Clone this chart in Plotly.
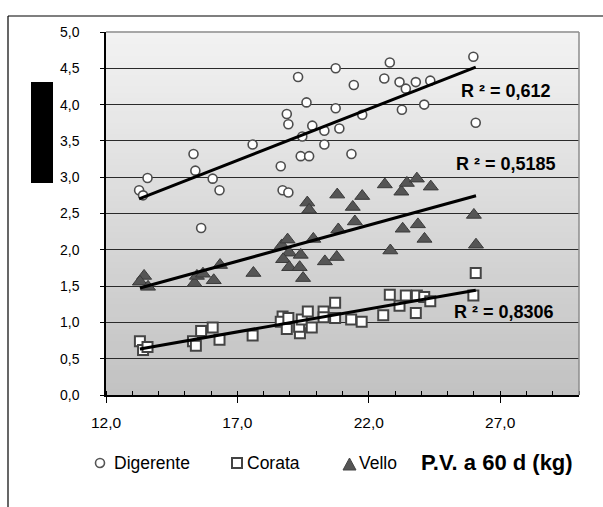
import numpy as np
import plotly.graph_objects as go

# ---------------- data ----------------
dig_x = [13.26, 13.41, 13.58, 15.33, 15.40, 15.62, 16.06, 16.32, 17.58, 18.65, 18.72, 18.94,
         18.88, 18.94, 19.31, 19.63, 19.47, 19.41, 19.73, 19.85, 20.31, 20.31, 20.74, 20.74,
         20.88, 21.43, 21.34, 21.75, 22.59, 22.80, 23.17, 23.41, 23.26, 23.79, 24.11, 24.34,
         25.98, 26.07]
dig_y = [2.82, 2.75, 2.99, 3.32, 3.09, 2.30, 2.98, 2.82, 3.45, 3.15, 2.82, 2.79,
         3.87, 3.73, 4.38, 4.03, 3.56, 3.29, 3.29, 3.71, 3.64, 3.45, 4.50, 3.95,
         3.67, 4.27, 3.32, 3.86, 4.36, 4.58, 4.31, 4.22, 3.93, 4.31, 4.00, 4.33,
         4.66, 3.75]

cor_x = [13.29, 13.41, 13.58, 15.31, 15.42, 15.62, 16.06, 16.32, 17.58, 18.72, 18.65, 18.94,
         18.88, 19.38, 19.35, 19.45, 19.68, 19.83, 20.28, 20.28, 20.72, 20.72, 21.33, 21.73,
         22.55, 22.80, 23.17, 23.41, 23.79, 23.83, 24.11, 24.34, 25.98, 26.07]
cor_y = [0.74, 0.62, 0.66, 0.74, 0.68, 0.88, 0.93, 0.76, 0.82, 1.08, 1.01, 1.06,
         0.91, 0.85, 0.94, 1.04, 1.15, 0.93, 1.15, 1.07, 1.27, 1.06, 1.04, 1.01,
         1.10, 1.38, 1.23, 1.37, 1.13, 1.37, 1.35, 1.29, 1.37, 1.68]

vel_x = [13.45, 13.29, 13.60, 15.37, 15.46, 15.69, 16.10, 16.34, 17.61, 18.69, 18.91, 18.97,
         18.74, 18.97, 19.41, 19.37, 19.50, 19.66, 19.73, 19.89, 20.33, 20.78, 20.84, 20.80,
         21.39, 21.47, 21.75, 22.61, 22.82, 23.24, 23.45, 23.83, 24.36, 23.29, 23.87, 24.12,
         26.00, 26.08]
vel_y = [1.64, 1.56, 1.49, 1.54, 1.64, 1.67, 1.58, 1.79, 1.68, 2.06, 2.14, 1.96,
         1.87, 1.76, 1.93, 1.76, 1.61, 2.65, 2.55, 2.15, 1.84, 1.90, 2.28, 2.76,
         2.59, 2.39, 2.74, 2.90, 1.99, 2.80, 2.92, 2.98, 2.87, 2.29, 2.35, 2.15,
         2.48, 2.07]

series_names = ["Digerente", "Corata", "Vello"]
r2_labels = ["R ² = 0,612", "R ² = 0,5185", "R ² = 0,8306"]
x_tickvals = [12, 17, 22, 27]
y_tickvals = [0, 0.5, 1, 1.5, 2, 2.5, 3, 3.5, 4, 4.5, 5]
x_title = "P.V. a 60 d (kg)"

# ---------------- figure ----------------
W, H = 603, 507
L, R, T, B = 106, 24, 32, 112
pw, ph = W - L - R, H - T - B


def px_x(p):
    return (p - L) / pw


def px_y(p):
    return (H - B - p) / ph


fig = go.Figure()

FONT = "Liberation Sans, Arial, sans-serif"

fig.add_trace(go.Scatter(
    x=dig_x, y=dig_y, mode="markers", name=series_names[0],
    marker=dict(symbol="circle", size=9, color="white",
                line=dict(color="#4d4d4d", width=1.6))))
fig.add_trace(go.Scatter(
    x=cor_x, y=cor_y, mode="markers", name=series_names[1],
    marker=dict(symbol="square", size=10, color="white",
                line=dict(color="#444444", width=2))))
fig.add_trace(go.Scatter(
    x=vel_x, y=vel_y, mode="markers", name=series_names[2],
    marker=dict(symbol="triangle-up", size=13, color="#555555",
                line=dict(color="#3a3a3a", width=1))))

# linear trend lines fitted to each series
for xs, ys in [(dig_x, dig_y), (vel_x, vel_y), (cor_x, cor_y)]:
    a, b = np.polyfit(xs, ys, 1)
    xe = np.array([min(xs), max(xs)])
    fig.add_trace(go.Scatter(x=xe, y=a * xe + b, mode="lines",
                             line=dict(color="black", width=3),
                             hoverinfo="skip", showlegend=False))

shapes = []
# gradient plot background
n = 60
top = np.array([243, 243, 243])
bot = np.array([194, 194, 194])
for i in range(n):
    t = (i + 0.5) / n
    c = (bot + (top - bot) * t).astype(int)
    shapes.append(dict(type="rect", xref="x domain", yref="y domain",
                       x0=0, x1=1, y0=i / n, y1=(i + 1) / n + 0.002,
                       fillcolor=f"rgb({c[0]},{c[1]},{c[2]})",
                       line=dict(width=0), layer="below"))
# gray plot border (top & right)
shapes.append(dict(type="line", xref="x domain", yref="y domain", x0=0, x1=1, y0=1, y1=1,
                   line=dict(color="#8c8c8c", width=1.5)))
shapes.append(dict(type="line", xref="x domain", yref="y domain", x0=1, x1=1, y0=0, y1=1,
                   line=dict(color="#8c8c8c", width=1.5)))
# outer chart frame
shapes.append(dict(type="line", xref="paper", yref="paper",
                   x0=px_x(8), x1=px_x(603), y0=px_y(16), y1=px_y(16),
                   line=dict(color="black", width=1.2)))
shapes.append(dict(type="line", xref="paper", yref="paper",
                   x0=px_x(8), x1=px_x(8), y0=px_y(16), y1=px_y(507),
                   line=dict(color="black", width=1.2)))
# black block (hidden axis title)
shapes.append(dict(type="rect", xref="paper", yref="paper",
                   x0=px_x(31), x1=px_x(53), y0=px_y(183), y1=px_y(82),
                   fillcolor="black", line=dict(width=0)))

# legend key symbols
LEG_Y = 463
shapes.append(dict(type="circle", xref="paper", yref="paper",
                   x0=px_x(95.5), x1=px_x(104.5), y0=px_y(467.5), y1=px_y(458.5),
                   fillcolor="white", line=dict(color="#555555", width=1.6)))
shapes.append(dict(type="rect", xref="paper", yref="paper",
                   x0=px_x(232), x1=px_x(242), y0=px_y(468), y1=px_y(458),
                   fillcolor="white", line=dict(color="#444444", width=2)))
shapes.append(dict(type="path", xref="paper", yref="paper",
                   path=(f"M {px_x(343)},{px_y(470)} L {px_x(356)},{px_y(470)} "
                         f"L {px_x(349.5)},{px_y(458)} Z"),
                   fillcolor="#555555", line=dict(color="#444444", width=1)))

annotations = []
r2_pos = [(459, 91), (454, 164), (452, 312)]
for txt, (ax_, ay_) in zip(r2_labels, r2_pos):
    annotations.append(dict(text=f"<b>{txt}</b>", xref="paper", yref="paper",
                            x=px_x(ax_), y=px_y(ay_), xanchor="left", yanchor="middle",
                            showarrow=False, font=dict(family=FONT, size=18, color="black")))

leg_text_x = [112, 245, 357]
for name, lx in zip(series_names, leg_text_x):
    annotations.append(dict(text=name, xref="paper", yref="paper",
                            x=px_x(lx), y=px_y(LEG_Y), xanchor="left", yanchor="middle",
                            showarrow=False, font=dict(family=FONT, size=17.5, color="black")))
annotations.append(dict(text=f"<b>{x_title}</b>", xref="paper", yref="paper",
                        x=px_x(419), y=px_y(462), xanchor="left", yanchor="middle",
                        showarrow=False, font=dict(family=FONT, size=22, color="black")))

fig.update_layout(
    width=W, height=H,
    margin=dict(l=L, r=R, t=T, b=B),
    paper_bgcolor="white", plot_bgcolor="#dcdcdc",
    separators=",.",
    showlegend=False,
    font=dict(family=FONT, size=14, color="black"),
    shapes=shapes, annotations=annotations,
    xaxis=dict(range=[12, 30], tickmode="array", tickvals=x_tickvals, tickformat=".1f",
               showgrid=False, zeroline=False, showline=True, linecolor="black", linewidth=1.5,
               ticks="outside", ticklen=6, tickcolor="black", tickwidth=1,
               minor=dict(dtick=1, tick0=12, ticks="inside", ticklen=4, tickcolor="black",
                          showgrid=False),
               tickfont=dict(family=FONT, size=15.5), ticklabelstandoff=7),
    yaxis=dict(range=[0, 5], tickmode="array", tickvals=y_tickvals, tickformat=".1f",
               showgrid=True, gridcolor="#2a2a2a", gridwidth=1, zeroline=False,
               showline=True, linecolor="black", linewidth=1.5,
               ticks="outside", ticklen=4, tickcolor="black",
               tickfont=dict(family=FONT, size=14), ticklabelstandoff=18),
)

fig.write_html("out.html")
